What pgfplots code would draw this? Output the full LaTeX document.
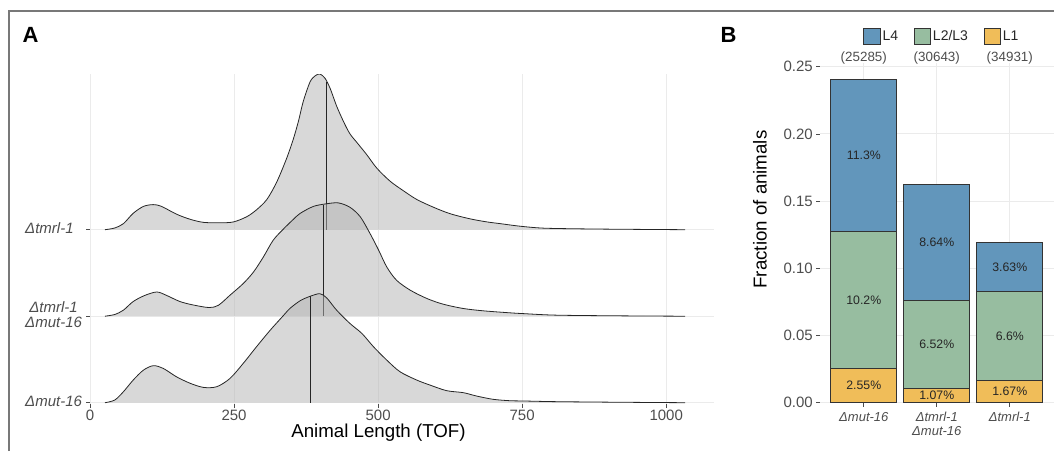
\documentclass[border=0pt]{standalone}
\usepackage{fontspec}
\setmainfont{Liberation Sans}
\usepackage{pgfplots}
\usepackage{pgfplotstable}
\pgfplotsset{compat=1.18}

\definecolor{cL4}{RGB}{98,150,187}
\definecolor{cL23}{RGB}{151,189,160}
\definecolor{cL1}{RGB}{240,189,89}
\definecolor{gridc}{RGB}{235,235,235}
\definecolor{txt}{RGB}{77,77,77}
\definecolor{framec}{RGB}{120,120,120}

\pgfplotsset{boxlegend/.style={legend image code/.code={%
  \draw[##1,draw=black!80,line width=0.8pt] (0pt,-8pt) rectangle (16.7pt,8pt);}}}

% ridge heights above each baseline (x = TOF)
\pgfplotstableread{
x h
26 0
43 0.02
58 0.07
75 0.19
93 0.27
110 0.29
124 0.27
150 0.18
174 0.12
197 0.085
226 0.08
249 0.09
272 0.15
289 0.23
307 0.35
324 0.55
341 0.82
353 1.05
362 1.26
370 1.48
382 1.71
391 1.78
399 1.80
408 1.75
417 1.63
428 1.43
440 1.25
451 1.11
463 1.01
480 0.87
498 0.71
521 0.56
544 0.45
567 0.35
596 0.26
625 0.185
660 0.125
689 0.09
712 0.07
747 0.04
787 0.018
850 0.01
925 0.005
1033 0
}\ridgeTmrl

\pgfplotstableread{
x h
26 0
43 0.02
58 0.07
75 0.17
95 0.24
116 0.28
133 0.24
156 0.17
179 0.13
207 0.10
223 0.127
243 0.243
266 0.378
284 0.513
301 0.686
318 0.879
336 1.01
353 1.12
365 1.19
388 1.27
411 1.30
431 1.31
451 1.26
469 1.15
486 0.956
501 0.763
515 0.570
532 0.416
556 0.30
585 0.204
613 0.139
648 0.089
683 0.062
729 0.039
752 0.03
810 0.012
925 0.004
1033 0
}\ridgeBoth

\pgfplotstableread{
x h
26 0
43 0.031
58 0.127
75 0.262
93 0.378
110 0.428
127 0.397
150 0.30
174 0.224
197 0.177
220 0.185
243 0.281
266 0.455
289 0.647
313 0.84
336 1.01
347 1.09
365 1.18
382 1.23
399 1.26
411 1.21
428 1.07
451 0.917
472 0.80
492 0.647
515 0.493
538 0.358
567 0.262
590 0.204
619 0.139
648 0.116
671 0.077
700 0.039
729 0.023
752 0.02
810 0.012
926 0.005
1033 0
}\ridgeMut

\begin{document}
\begin{tikzpicture}
\path[use as bounding box] (0pt,0pt) rectangle (1054pt,451pt);
\draw[framec, line width=2pt] (9pt,0pt) -- (9pt,440pt) -- (1054pt,440pt);
\node[font=\fontsize{22}{22}\selectfont\bfseries] at (30.5pt,416pt) {A};
\node[font=\fontsize{22}{22}\selectfont\bfseries] at (728.5pt,416pt) {B};

% ---------- panel A: ridgelines ----------
\begin{axis}[
  at={(90pt,47pt)}, anchor=south west, scale only axis,
  width=624pt, height=330pt,
  xmin=0, xmax=1083, ymin=0.985, ymax=4.8,
  enlargelimits=false,
  axis line style={draw=none},
  xtick={0,250,500,750,1000}, xticklabels={0,250,500,750,1000},
  ytick={1,2,3},
  yticklabels={{\textit{Δmut-16}},{\textit{Δtmrl-1}\\\textit{Δmut-16}},{\textit{Δtmrl-1}}},
  xmajorgrids, ymajorgrids,
  major grid style={draw=gridc, line width=0.9pt},
  tick align=outside, major tick length=4pt,
  xtick pos=bottom, ytick pos=left,
  every tick/.style={draw=black!70, line width=0.7pt},
  tick label style={font=\fontsize{15}{15.7}\selectfont, text=txt},
  xticklabel style={inner ysep=2pt},
  yticklabel style={anchor=west, align=center, inner sep=0pt, xshift=-61pt, yshift=1.5pt},
  /pgf/number format/assume math mode=true,
  xlabel={Animal Length (TOF)},
  xlabel style={font=\fontsize{18.7}{20}\selectfont, inner sep=0pt, at={(axis description cs:0.4623,0)}, anchor=base, yshift=-33.5pt},
]
\addplot[draw=none, fill=black!30, fill opacity=0.5, smooth] table[x=x, y expr=\thisrow{h}+3] {\ridgeTmrl} -- cycle;
\addplot[black!85, line width=0.8pt] coordinates {(411,3) (411,4.71)};
\addplot[black!85, line width=0.8pt, smooth] table[x=x, y expr=\thisrow{h}+3] {\ridgeTmrl};

\addplot[draw=none, fill=black!30, fill opacity=0.5, smooth] table[x=x, y expr=\thisrow{h}+2] {\ridgeBoth} -- cycle;
\addplot[black!85, line width=0.8pt] coordinates {(405,2) (405,3.29)};
\addplot[black!85, line width=0.8pt, smooth] table[x=x, y expr=\thisrow{h}+2] {\ridgeBoth};

\addplot[draw=none, fill=black!30, fill opacity=0.5, smooth] table[x=x, y expr=\thisrow{h}+1] {\ridgeMut} -- cycle;
\addplot[black!85, line width=0.8pt] coordinates {(383,1) (383,2.23)};
\addplot[black!85, line width=0.8pt, smooth] table[x=x, y expr=\thisrow{h}+1] {\ridgeMut};
\end{axis}

% ---------- panel B: stacked bars ----------
\begin{axis}[
  at={(820pt,48.3pt)}, anchor=south west, scale only axis,
  width=233.6pt, height=339.3pt,
  xmin=-0.6, xmax=2.6, ymin=0, ymax=0.2525, enlargelimits=false,
  ybar stacked, bar width=66pt,
  axis line style={draw=none},
  xtick={0,1,2},
  xticklabels={{\textit{Δmut-16}},{\textit{Δtmrl-1}\\\textit{Δmut-16}},{\textit{Δtmrl-1}}},
  ytick={0,0.05,0.1,0.15,0.2,0.25},
  yticklabels={0.00,0.05,0.10,0.15,0.20,0.25},
  xmajorgrids, ymajorgrids,
  major grid style={draw=gridc, line width=0.9pt},
  tick align=outside, major tick length=4pt,
  xtick pos=bottom, ytick pos=left,
  every tick/.style={draw=black!70, line width=0.7pt},
  yticklabel style={font=\fontsize{15}{15.7}\selectfont, text=txt, inner xsep=3pt},
  xticklabel style={font=\fontsize{13}{13.3}\selectfont, text=txt, align=center, inner ysep=5.5pt},
  /pgf/number format/assume math mode=true,
  ylabel={Fraction of animals},
  ylabel style={font=\fontsize{18.7}{20}\selectfont, at={(axis description cs:-0.2568,0.5694)}, anchor=center},
  legend columns=3, reverse legend,
  legend style={at={(axis description cs:0.1854,1.0799)}, anchor=west, draw=none, fill=none,
    inner sep=0pt, outer sep=0pt, font=\fontsize{14}{14}\selectfont, text=black!85,
    nodes={inner xsep=1.7pt},
    /tikz/every even column/.append style={column sep=14pt}},
]
\addplot[fill=cL1, draw=black!80, line width=0.8pt, boxlegend] coordinates {(0,0.0255) (1,0.0107) (2,0.0167)};
\addplot[fill=cL23, draw=black!80, line width=0.8pt, boxlegend] coordinates {(0,0.102) (1,0.0652) (2,0.066)};
\addplot[fill=cL4, draw=black!80, line width=0.8pt, boxlegend] coordinates {(0,0.113) (1,0.0864) (2,0.0363)};
\legend{L1,L2/L3,L4}
\end{axis}

% value labels and counts
\begin{axis}[
  at={(820pt,48.3pt)}, anchor=south west, scale only axis,
  width=233.6pt, height=339.3pt,
  xmin=-0.6, xmax=2.6, ymin=0, ymax=0.2525, enlargelimits=false,
  hide axis, clip=false,
]
\addplot[draw=none, mark=none, nodes near coords, point meta=explicit symbolic,
  every node near coord/.append style={anchor=center, font=\fontsize{12.3}{14}\selectfont, text=black!85}]
  coordinates {
    (0,0.01275) [2.55\%] (0,0.0765) [10.2\%] (0,0.184) [11.3\%]
    (1,0.00535) [1.07\%] (1,0.0433) [6.52\%] (1,0.1191) [8.64\%]
    (2,0.00835) [1.67\%] (2,0.0497) [6.6\%] (2,0.10085) [3.63\%]
  };
\node[anchor=base, font=\fontsize{13.4}{14}\selectfont, text=txt, yshift=1.9pt] at (axis cs:0,0.2525) {(25285)};
\node[anchor=base, font=\fontsize{13.4}{14}\selectfont, text=txt, yshift=1.9pt] at (axis cs:1,0.2525) {(30643)};
\node[anchor=base, font=\fontsize{13.4}{14}\selectfont, text=txt, yshift=1.9pt] at (axis cs:2,0.2525) {(34931)};
\end{axis}
\end{tikzpicture}
\end{document}
